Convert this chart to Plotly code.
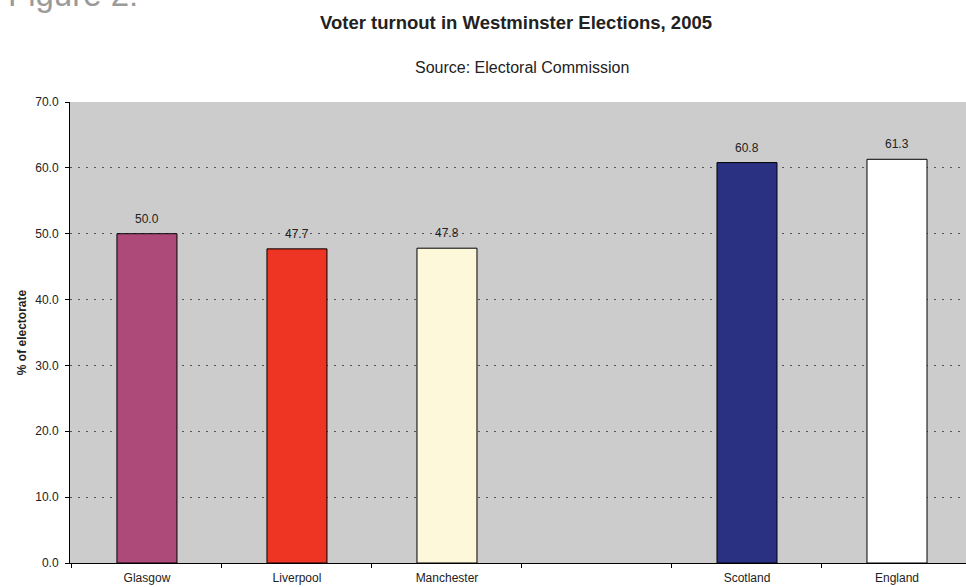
import plotly.graph_objects as go

# Turnout by area (percent of electorate); the blank slot separates cities from nations
areas = ["Glasgow", "Liverpool", "Manchester", " ", "Scotland", "England"]
turnout = [50.0, 47.7, 47.8, None, 60.8, 61.3]
bar_colors = ["#AD4A7A", "#EE3524", "#FDF8D9", "#CCCCCC", "#2A3183", "#FFFFFF"]

y_ticks = [0, 10, 20, 30, 40, 50, 60, 70]

FONT = "Arial, Liberation Sans, Helvetica, sans-serif"

fig = go.Figure()
fig.add_trace(go.Bar(
    x=areas,
    y=turnout,
    width=0.4,
    marker=dict(color=bar_colors, line=dict(color="#000000", width=1)),
    hoverinfo="x+y",
))

# value labels above each bar
for a, v in zip(areas, turnout):
    if v is None:
        continue
    fig.add_annotation(
        x=a, y=v, xref="x", yref="y",
        text=f"{v:.1f}", showarrow=False,
        yanchor="bottom", yshift=6,
        font=dict(family=FONT, size=12, color="#222222"),
    )

# headings
fig.add_annotation(
    x=0.4978, y=1.1735, xref="paper", yref="paper",
    text="<b>Voter turnout in Westminster Elections, 2005</b>",
    showarrow=False, xanchor="center", yanchor="middle",
    font=dict(family=FONT, size=18.5, color="#222222"),
)
fig.add_annotation(
    x=0.5045, y=1.0738, xref="paper", yref="paper",
    text="Source: Electoral Commission",
    showarrow=False, xanchor="center", yanchor="middle",
    font=dict(family=FONT, size=16, color="#222222"),
)
fig.add_annotation(
    x=-0.0714, y=1.1887, xref="paper", yref="paper",
    text="Figure 2:",
    showarrow=False, xanchor="left", yanchor="bottom",
    font=dict(family=FONT, size=33, color="#9A9A9A"),
)

fig.update_layout(
    width=966,
    height=587,
    margin=dict(l=70, r=0, t=102, b=24, pad=0),
    paper_bgcolor="#FFFFFF",
    plot_bgcolor="#CCCCCC",
    showlegend=False,
    font=dict(family=FONT, size=12, color="#222222"),
    bargap=0.6,
)

fig.update_xaxes(
    type="category",
    range=[-0.513, 5.46],
    showline=True, linecolor="#000000", linewidth=1,
    ticks="outside", ticklen=4, tickcolor="#000000", tickwidth=1,
    tickson="boundaries",
    ticklabelstandoff=4,
    showgrid=False,
    tickfont=dict(family=FONT, size=12, color="#222222"),
)

fig.update_yaxes(
    range=[0, 70],
    tickvals=y_ticks,
    tickformat=".1f",
    showline=True, linecolor="#000000", linewidth=1,
    ticks="outside", ticklen=4, tickcolor="#000000", tickwidth=1,
    ticklabelstandoff=4,
    showgrid=True, gridcolor="#555555", gridwidth=1, griddash="2px,6px",
    zeroline=False,
    tickfont=dict(family=FONT, size=12, color="#222222"),
    title=dict(text="<b>% of electorate</b>", standoff=6,
               font=dict(family=FONT, size=12, color="#222222")),
)

fig.write_html("out.html")
